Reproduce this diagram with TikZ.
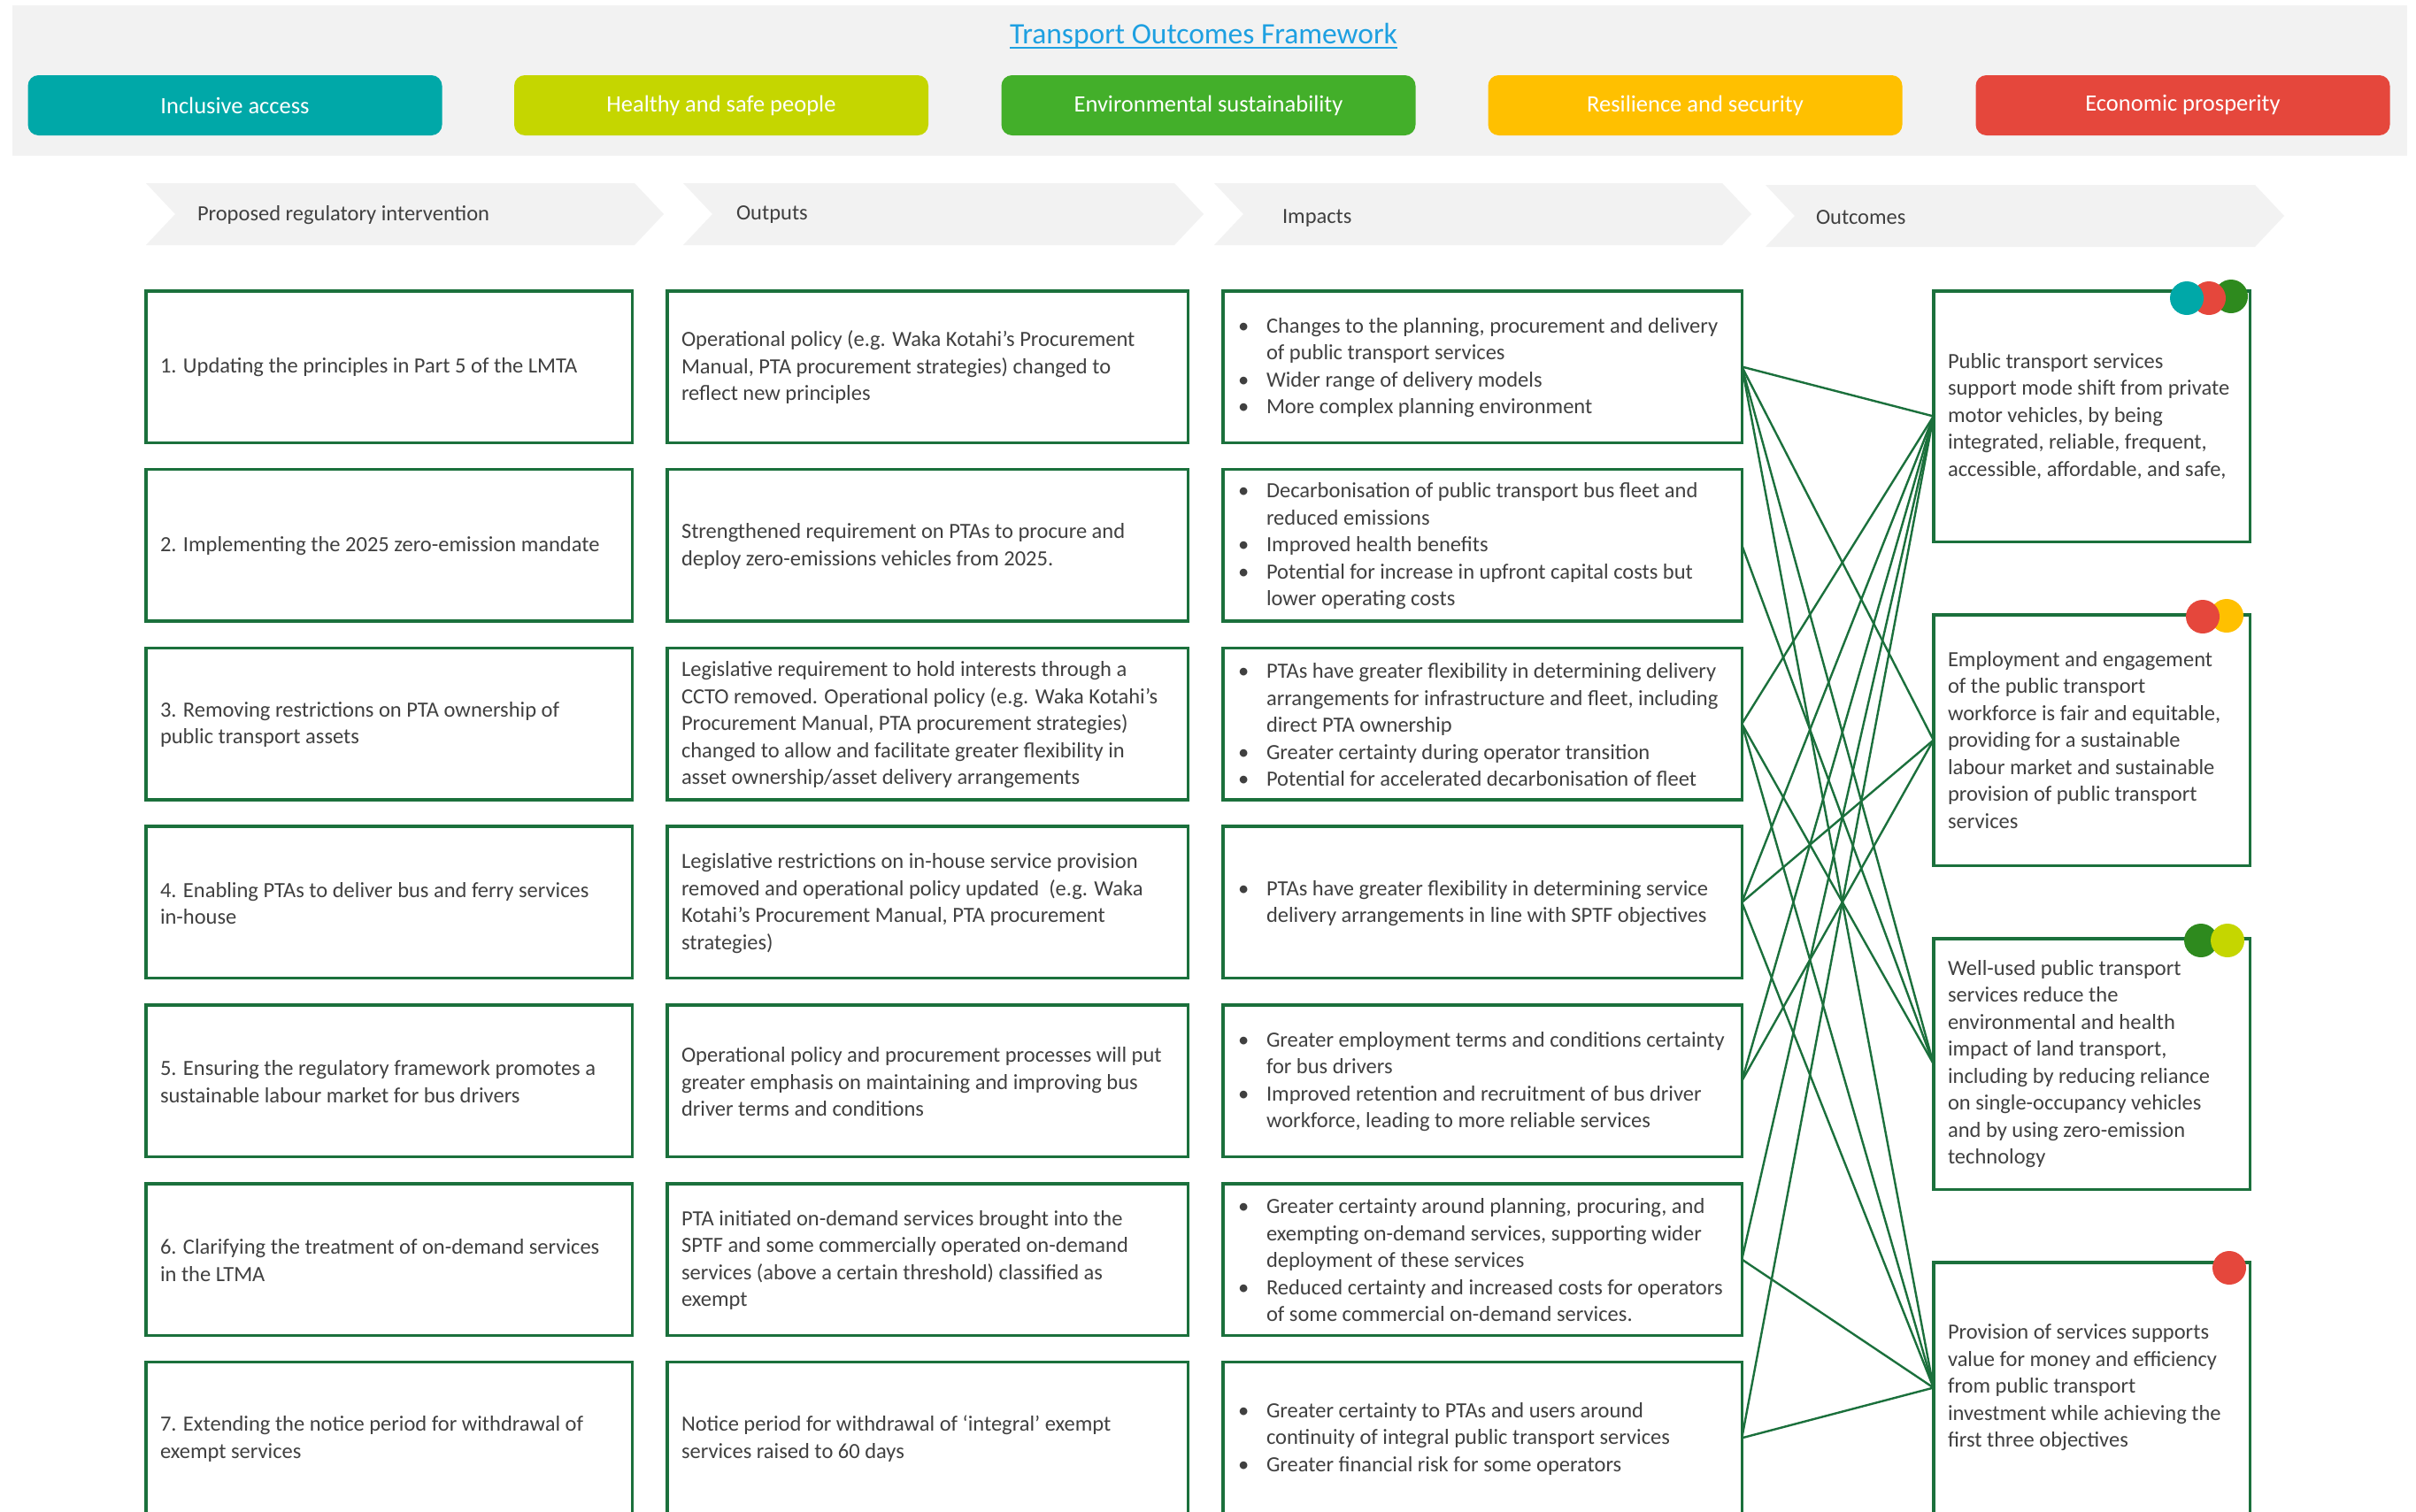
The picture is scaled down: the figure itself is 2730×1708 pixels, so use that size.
\documentclass[tikz,border=0pt]{standalone}
\usepackage{fontspec}
\setmainfont{Carlito}
\definecolor{bx}{RGB}{27,112,60}
\definecolor{txt}{RGB}{64,64,64}
\definecolor{panel}{RGB}{242,242,242}
\definecolor{cteal}{RGB}{0,168,168}
\definecolor{clime}{RGB}{197,214,0}
\definecolor{cgreen}{RGB}{67,175,42}
\definecolor{cyellow}{RGB}{255,192,0}
\definecolor{cred}{RGB}{229,71,60}
\definecolor{cdkgreen}{RGB}{46,138,30}
\definecolor{linkblue}{RGB}{30,160,225}
\newcommand{\bodyfont}{\fontsize{24.5}{30.5}\selectfont}
\newcommand{\hdrfont}{\fontsize{26.5}{30}\selectfont}
\newcommand{\ttlfont}{\fontsize{33.5}{38}\selectfont}
\newcommand{\bl}{\makebox[32pt][l]{•}}
\newcommand{\ind}{\hspace*{32pt}}
\tikzset{
  every node/.style={inner sep=0pt, outer sep=0pt},
  box/.style={draw=bx, line width=3.5pt, rectangle},
  regbox/.style={box, minimum width=549.5, minimum height=171.5},
  outbox/.style={box, minimum width=588.5, minimum height=171.5},
  impbox/.style={box, minimum width=586.5, minimum height=171.5},
  ocbox/.style={box, minimum width=357.5, minimum height=283.5},
  txtnode/.style={anchor=west, align=left, font=\bodyfont, text=txt},
  hdr/.style={rounded corners=12, minimum width=468, minimum height=68, text=white, font=\hdrfont},
  chev/.style={fill=panel},
  conn/.style={draw=bx, line width=2.4pt},
  dot/.style={circle, minimum size=38}
}
\begin{document}
\begin{tikzpicture}[x=1pt, y=-1pt]
\useasboundingbox (0,0) rectangle (2730,1708);
\clip (0,0) rectangle (2730,1708);
\fill[white] (0,0) rectangle (2730,1708);

% top panel
\fill[panel] (14,6) rectangle (2720,176);
\node[anchor=base, font=\ttlfont, text=linkblue] (title) at (1360,49) {Transport Outcomes Framework};
\draw[linkblue, line width=2pt] ([yshift=-5pt]title.base west) -- ([yshift=-5pt]title.base east);
\node[hdr, fill=cteal] (h1) at (265.5,119) {Inclusive access};
\node[hdr, fill=clime] (h2) at (815,119) {Healthy and safe people};
\node[hdr, fill=cgreen] (h3) at (1365.5,119) {Environmental sustainability};
\node[hdr, fill=cyellow] (h4) at (1915.5,119) {Resilience and security};
\node[hdr, fill=cred] (h5) at (2466.5,119) {Economic prosperity};

% chevrons
\fill[chev] (165,207) -- (717,207) -- (750,242) -- (717,277) -- (165,277) -- (198,242) -- cycle;
\fill[chev] (772,207) -- (1327,207) -- (1360,242) -- (1327,277) -- (772,277) -- (805,242) -- cycle;
\fill[chev] (1372,207) -- (1946,207) -- (1979,242) -- (1946,277) -- (1372,277) -- (1405,242) -- cycle;
\fill[chev] (1995,209) -- (2548,209) -- (2581,244) -- (2548,279) -- (1995,279) -- (2028,244) -- cycle;
\node[txtnode] (c1) at (223,243) {Proposed regulatory intervention};
\node[txtnode] (c2) at (832,243) {Outputs};
\node[txtnode] (c3) at (1449,247) {Impacts};
\node[txtnode] (c4) at (2052,246) {Outcomes};

% column 1 boxes
\node[regbox] (r1) at (439.5,414.5) {};
\node[regbox] (r2) at (439.5,616.3) {};
\node[regbox] (r3) at (439.5,818.1) {};
\node[regbox] (r4) at (439.5,1019.9) {};
\node[regbox] (r5) at (439.5,1221.7) {};
\node[regbox] (r6) at (439.5,1423.5) {};
\node[regbox] (r7) at (439.5,1625.3) {};
\node[txtnode] (r1t) at (181,415.5) {1. Updating the principles in Part 5 of the LMTA};
\node[txtnode] (r2t) at (181,617.3) {2. Implementing the 2025 zero-emission mandate};
\node[txtnode] (r3t) at (181,819.1) {3. Removing restrictions on PTA ownership of\\public transport assets};
\node[txtnode] (r4t) at (181,1020.9) {4. Enabling PTAs to deliver bus and ferry services\\in-house};
\node[txtnode] (r5t) at (181,1222.7) {5. Ensuring the regulatory framework promotes a\\sustainable labour market for bus drivers};
\node[txtnode] (r6t) at (181,1424.5) {6. Clarifying the treatment of on-demand services\\in the LTMA};
\node[txtnode] (r7t) at (181,1626.3) {7. Extending the notice period for withdrawal of\\exempt services};

% column 2 boxes
\node[outbox] (p1) at (1048,414.5) {};
\node[outbox] (p2) at (1048,616.3) {};
\node[outbox] (p3) at (1048,818.1) {};
\node[outbox] (p4) at (1048,1019.9) {};
\node[outbox] (p5) at (1048,1221.7) {};
\node[outbox] (p6) at (1048,1423.5) {};
\node[outbox] (p7) at (1048,1625.3) {};
\node[txtnode] (p1t) at (770,415.5) {Operational policy (e.g. Waka Kotahi’s Procurement\\Manual, PTA procurement strategies) changed to\\reflect new principles};
\node[txtnode] (p2t) at (770,617.3) {Strengthened requirement on PTAs to procure and\\deploy zero-emissions vehicles from 2025.};
\node[txtnode] (p3t) at (770,819.1) {Legislative requirement to hold interests through a\\CCTO removed. Operational policy (e.g. Waka Kotahi’s\\Procurement Manual, PTA procurement strategies)\\changed to allow and facilitate greater flexibility in\\asset ownership/asset delivery arrangements};
\node[txtnode] (p4t) at (770,1020.9) {Legislative restrictions on in-house service provision\\removed and operational policy updated\ \ (e.g. Waka\\Kotahi’s Procurement Manual, PTA procurement\\strategies)};
\node[txtnode] (p5t) at (770,1222.7) {Operational policy and procurement processes will put\\greater emphasis on maintaining and improving bus\\driver terms and conditions};
\node[txtnode] (p6t) at (770,1424.5) {PTA initiated on-demand services brought into the\\SPTF and some commercially operated on-demand\\services (above a certain threshold) classified as\\exempt};
\node[txtnode] (p7t) at (770,1626.3) {Notice period for withdrawal of ‘integral’ exempt\\services raised to 60 days};

% column 3 boxes
\node[impbox] (m1) at (1675,414.5) {};
\node[impbox] (m2) at (1675,616.3) {};
\node[impbox] (m3) at (1675,818.1) {};
\node[impbox] (m4) at (1675,1019.9) {};
\node[impbox] (m5) at (1675,1221.7) {};
\node[impbox] (m6) at (1675,1423.5) {};
\node[impbox] (m7) at (1675,1625.3) {};
\node[txtnode] (m1t) at (1399,415.5) {\bl Changes to the planning, procurement and delivery\\\ind of public transport services\\\bl Wider range of delivery models\\\bl More complex planning environment};
\node[txtnode] (m2t) at (1399,617.3) {\bl Decarbonisation of public transport bus fleet and\\\ind reduced emissions\\\bl Improved health benefits\\\bl Potential for increase in upfront capital costs but\\\ind lower operating costs};
\node[txtnode] (m3t) at (1399,819.1) {\bl PTAs have greater flexibility in determining delivery\\\ind arrangements for infrastructure and fleet, including\\\ind direct PTA ownership\\\bl Greater certainty during operator transition\\\bl Potential for accelerated decarbonisation of fleet};
\node[txtnode] (m4t) at (1399,1020.9) {\bl PTAs have greater flexibility in determining service\\\ind delivery arrangements in line with SPTF objectives};
\node[txtnode] (m5t) at (1399,1222.7) {\bl Greater employment terms and conditions certainty\\\ind for bus drivers\\\bl Improved retention and recruitment of bus driver\\\ind workforce, leading to more reliable services};
\node[txtnode] (m6t) at (1399,1424.5) {\bl Greater certainty around planning, procuring, and\\\ind exempting on-demand services, supporting wider\\\ind deployment of these services\\\bl Reduced certainty and increased costs for operators\\\ind of some commercial on-demand services.};
\node[txtnode] (m7t) at (1399,1626.3) {\bl Greater certainty to PTAs and users around\\\ind continuity of integral public transport services\\\bl Greater financial risk for some operators};

% column 4 boxes
\node[ocbox] (o1) at (2363.5,470.5) {};
\node[ocbox] (o2) at (2363.5,836.5) {};
\node[ocbox] (o3) at (2363.5,1202.5) {};
\node[ocbox] (o4) at (2363.5,1568.5) {};
\node[txtnode] (o1t) at (2201,470.5) {Public transport services\\support mode shift from private\\motor vehicles, by being\\integrated, reliable, frequent,\\accessible, affordable, and safe,};
\node[txtnode] (o2t) at (2201,836.5) {Employment and engagement\\of the public transport\\workforce is fair and equitable,\\providing for a sustainable\\labour market and sustainable\\provision of public transport\\services};
\node[txtnode] (o3t) at (2201,1202.5) {Well-used public transport\\services reduce the\\environmental and health\\impact of land transport,\\including by reducing reliance\\on single-occupancy vehicles\\and by using zero-emission\\technology};
\node[txtnode] (o4t) at (2201,1568.5) {Provision of services supports\\value for money and efficiency\\from public transport\\investment while achieving the\\first three objectives};

% connectors
\draw[conn] (m1.east) -- (o1.west);
\draw[conn] (m1.east) -- (o2.west);
\draw[conn] (m1.east) -- (o3.west);
\draw[conn] (m1.east) -- (o4.west);
\draw[conn] (m2.east) -- (o3.west);
\draw[conn] (m3.east) -- (o1.west);
\draw[conn] (m3.east) -- (o3.west);
\draw[conn] (m3.east) -- (o4.west);
\draw[conn] (m4.east) -- (o1.west);
\draw[conn] (m4.east) -- (o2.west);
\draw[conn] (m4.east) -- (o4.west);
\draw[conn] (m5.east) -- (o1.west);
\draw[conn] (m5.east) -- (o2.west);
\draw[conn] (m6.east) -- (o1.west);
\draw[conn] (m6.east) -- (o4.west);
\draw[conn] (m7.east) -- (o1.west);
\draw[conn] (m7.east) -- (o4.west);

% outcome dots
\node[dot, fill=cdkgreen] (d1c) at (2521,335) {};
\node[dot, fill=cred] (d1b) at (2496,337) {};
\node[dot, fill=cteal] (d1a) at (2471,337) {};
\node[dot, fill=cyellow] (d2b) at (2516,696) {};
\node[dot, fill=cred] (d2a) at (2489,697) {};
\node[dot, fill=cdkgreen] (d3a) at (2487,1063) {};
\node[dot, fill=clime] (d3b) at (2517,1063) {};
\node[dot, fill=cred] (d4a) at (2519,1433) {};
\end{tikzpicture}
\end{document}
